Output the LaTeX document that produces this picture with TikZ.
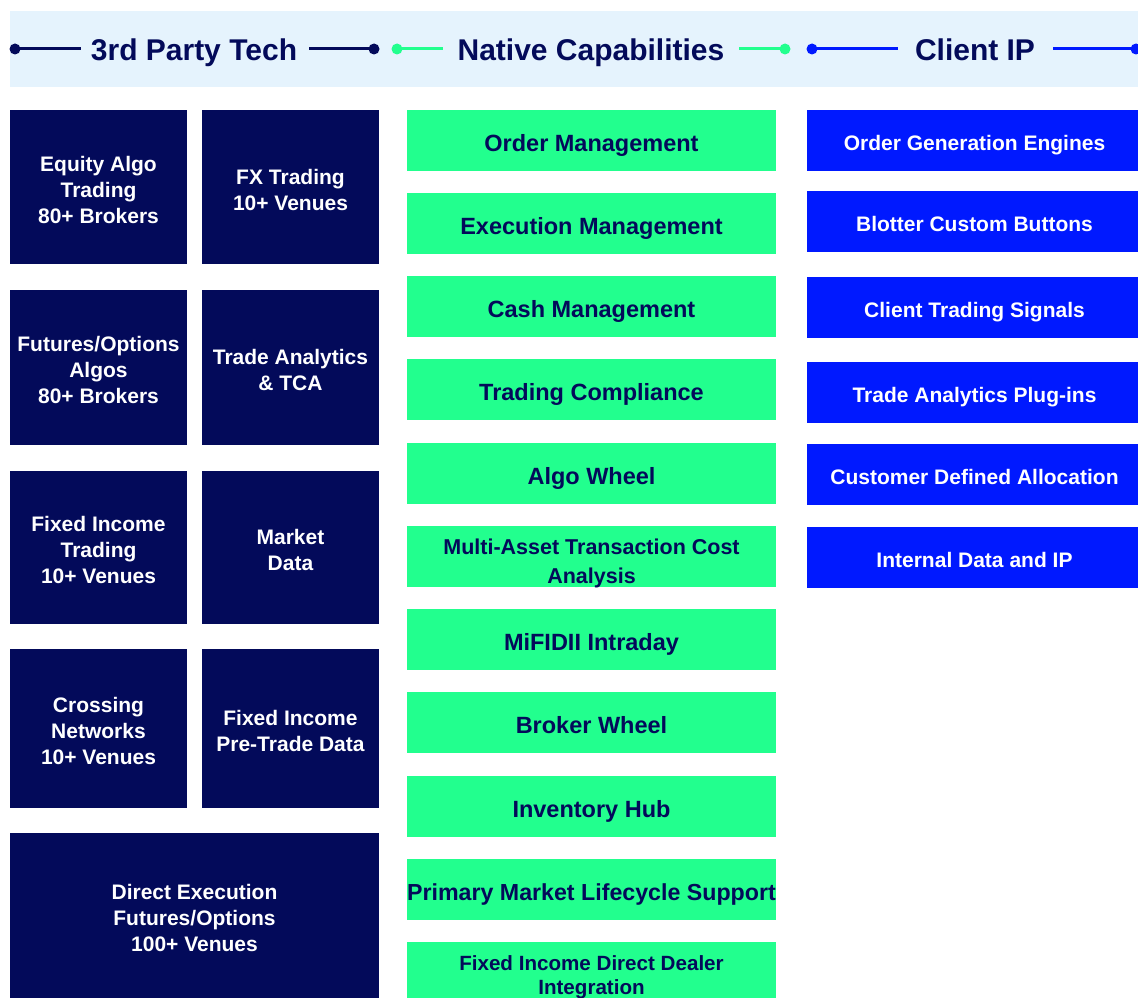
\documentclass[tikz,border=0pt]{standalone}
\usepackage{fontspec}
\setmainfont{Liberation Sans}
\definecolor{navy}{HTML}{030A5A}
\definecolor{mint}{HTML}{22FF8E}
\definecolor{royal}{HTML}{0019FF}
\definecolor{band}{HTML}{E5F3FD}
\newcommand\tstrut{\rule{0pt}{21pt}}
\tikzset{
  tile/.style={inner sep=0pt, outer sep=0pt, align=center},
  navytile/.style={tile, fill=navy, text=white, font=\bfseries\fontsize{21}{26}\selectfont},
  minttile/.style={tile, fill=mint, text=navy, minimum width=369pt, minimum height=61pt,
    text height=22.5pt, text depth=0pt, font=\bfseries\fontsize{23.5}{28}\selectfont},
  mintbare/.style={tile, fill=mint, minimum width=369pt, minimum height=61pt},
  minttext/.style={tile, text=navy},
  royaltile/.style={tile, fill=royal, text=white, minimum width=335pt, minimum height=61pt,
    text height=20.6pt, text depth=0pt, font=\bfseries\fontsize{21}{26}\selectfont},
  head/.style={inner sep=0pt, text=navy, font=\bfseries\fontsize{30}{36}\selectfont, anchor=base},
  hline/.style={line width=3pt},
}
\begin{document}
\begin{tikzpicture}[x=1pt,y=-1pt]
\useasboundingbox (0,0) rectangle (1138,998);
% header band
\fill[band] (10,11) rectangle (1138,87);
% header titles
\node[head] (h1) at (194,61) {3rd Party Tech};
\node[head] (h2) at (591,61) {Native Capabilities};
\node[head] (h3) at (975,61) {Client IP};
% header lines
\coordinate (a1) at (15,49);  \coordinate (a2) at (81,49);
\coordinate (a3) at (309,49); \coordinate (a4) at (374,49);
\coordinate (b1) at (397,49); \coordinate (b2) at (443,49);
\coordinate (b3) at (739,49); \coordinate (b4) at (785,49);
\coordinate (c1) at (812,49); \coordinate (c2) at (898,49);
\coordinate (c3) at (1053,49); \coordinate (c4) at (1136,49);
\draw[hline, navy] (a1) -- (a2); \draw[hline, navy] (a3) -- (a4);
\fill[navy] (a1) circle (5.5pt); \fill[navy] (a4) circle (5.5pt);
\draw[hline, mint] (b1) -- (b2); \draw[hline, mint] (b3) -- (b4);
\fill[mint] (b1) circle (5.5pt); \fill[mint] (b4) circle (5.5pt);
\draw[hline, royal] (c1) -- (c2); \draw[hline, royal] (c3) -- (c4);
\fill[royal] (c1) circle (5.5pt); \fill[royal] (c4) circle (5.5pt);

% 3rd party tech column
\node[navytile, minimum width=177pt, minimum height=154pt] (eq) at (98.5,187) {\tstrut Equity Algo\\Trading\\80+ Brokers};
\node[navytile, minimum width=177pt, minimum height=154pt] (fx) at (290.5,187) {\tstrut FX Trading\\10+ Venues};
\node[navytile, minimum width=177pt, minimum height=155pt] (fo) at (98.5,367.5) {\tstrut Futures/Options\\Algos\\80+ Brokers};
\node[navytile, minimum width=177pt, minimum height=155pt] (ta) at (290.5,367.5) {\tstrut Trade Analytics\\\& TCA};
\node[navytile, minimum width=177pt, minimum height=153pt] (fi) at (98.5,547.5) {\tstrut Fixed Income\\Trading\\10+ Venues};
\node[navytile, minimum width=177pt, minimum height=153pt] (md) at (290.5,547.5) {\tstrut Market\\Data};
\node[navytile, minimum width=177pt, minimum height=159pt] (cn) at (98.5,728.5) {\tstrut Crossing\\Networks\\10+ Venues};
\node[navytile, minimum width=177pt, minimum height=159pt] (fp) at (290.5,728.5) {\tstrut Fixed Income\\Pre-Trade Data};
\node[navytile, minimum width=369pt, minimum height=165pt] (de) at (194.5,915.5) {\tstrut Direct Execution\\Futures/Options\\100+ Venues};

% native capabilities column
\node[minttile] (om) at (591.5,140.5) {Order Management};
\node[minttile] (em) at (591.5,223.5) {Execution Management};
\node[minttile] (cm) at (591.5,306.5) {Cash Management};
\node[minttile] (tc) at (591.5,389.5) {Trading Compliance};
\node[minttile] (aw) at (591.5,473.5) {Algo Wheel};
\node[mintbare] (mat) at (591.5,556.5) {};
\node[minttext, font=\bfseries\fontsize{21.5}{29}\selectfont] (matt) at (591.5,563) {Multi-Asset Transaction Cost\\Analysis};
\node[minttile] (mi) at (591.5,639.5) {MiFIDII Intraday};
\node[minttile] (bw) at (591.5,722.5) {Broker Wheel};
\node[minttile] (ih) at (591.5,806.5) {Inventory Hub};
\node[minttile, font=\bfseries\fontsize{23.2}{28}\selectfont] (pm) at (591.5,889.5) {Primary Market Lifecycle Support};
\node[mintbare] (fd) at (591.5,972.5) {};
\node[minttext, font=\bfseries\fontsize{20.6}{24}\selectfont] (fdt) at (591.5,977.6) {Fixed Income Direct Dealer\\Integration};

% client IP column
\node[royaltile] (og) at (974.5,140.5) {Order Generation Engines};
\node[royaltile] (bc) at (974.5,221.5) {Blotter Custom Buttons};
\node[royaltile] (ct) at (974.5,307.5) {Client Trading Signals};
\node[royaltile] (tp) at (974.5,392.5) {Trade Analytics Plug-ins};
\node[royaltile] (cd) at (974.5,474.5) {Customer Defined Allocation};
\node[royaltile] (id) at (974.5,557.5) {Internal Data and IP};
\end{tikzpicture}
\end{document}
